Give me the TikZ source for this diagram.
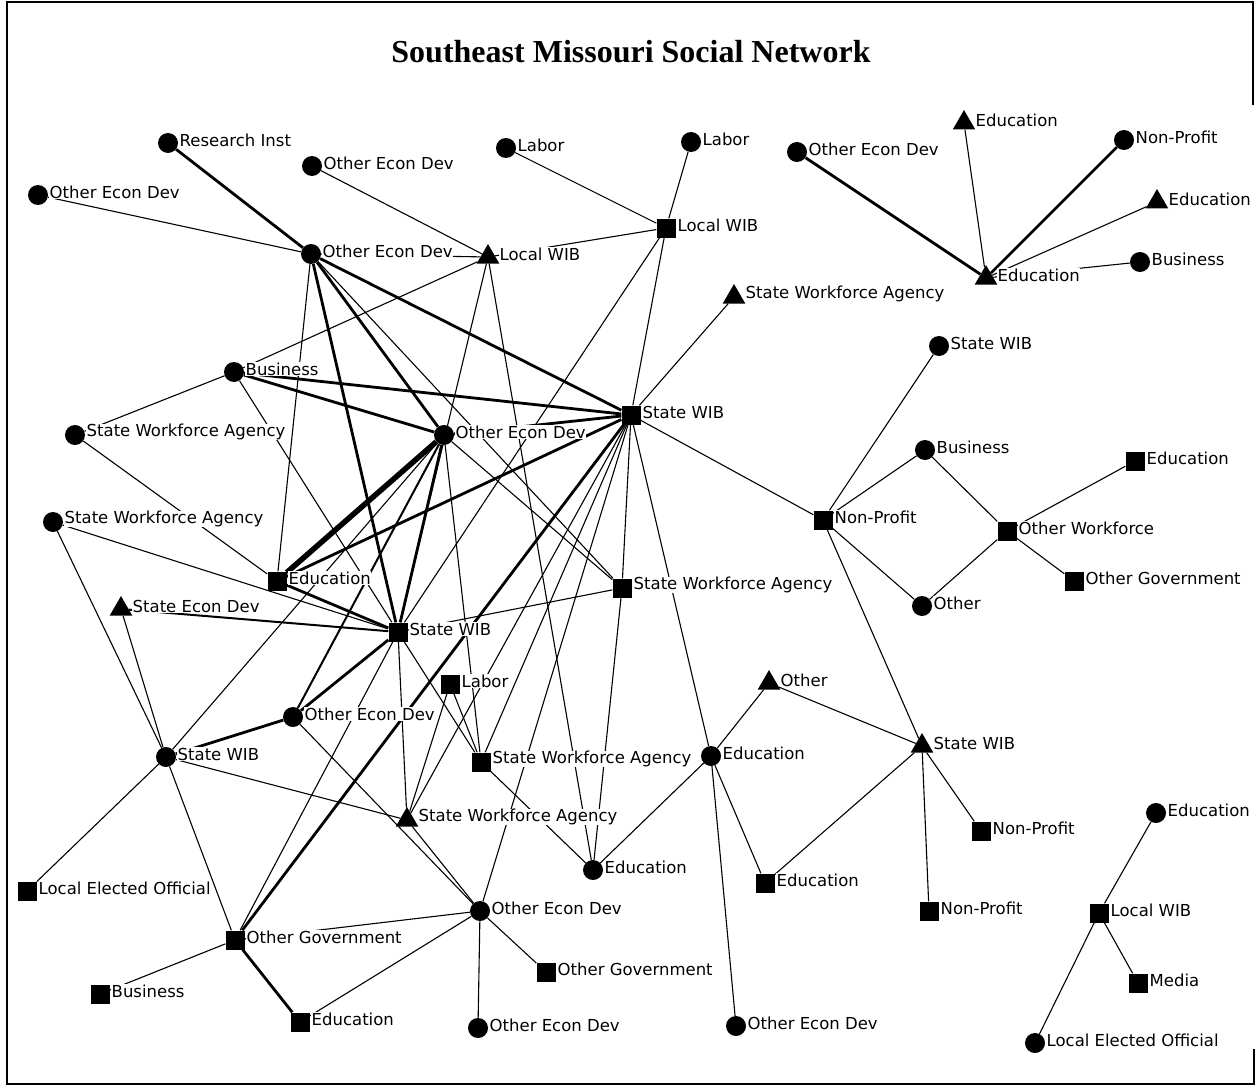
\documentclass[tikz,border=0pt]{standalone}
\usepackage{fontspec}
\setmainfont{DejaVu Sans}
\newfontfamily\titlefont{Liberation Serif}
\usetikzlibrary{shapes.geometric}
\begin{document}
\begin{tikzpicture}[x=1pt,y=-1pt,
  dot/.style={circle,fill=black,inner sep=0pt,minimum size=20pt},
  sq/.style={rectangle,fill=black,inner sep=0pt,minimum size=19pt},
  tri/.style={regular polygon,regular polygon sides=3,fill=black,inner sep=0pt,minimum size=26pt},
  lbl/.style={anchor=west,fill=white,inner xsep=0.5pt,inner ysep=0.5pt,font=\fontsize{16.5}{18}\selectfont},
  e1/.style={line width=1.1pt},
  e2/.style={line width=2pt},
  e3/.style={line width=2.8pt},
  e5/.style={line width=5.5pt},
  frame/.style={line width=2pt,line cap=rect}]
\useasboundingbox (0,0) rectangle (1255,1086);
\fill[white] (0,0) rectangle (1255,1086);
% frame and title
\draw[frame] (7,1084) -- (7,2) -- (1253,2) -- (1253,104);
\draw[frame] (7,1084) -- (1254,1084) -- (1254,1050);
\node[font=\titlefont\bfseries\fontsize{32}{34}\selectfont,anchor=base] (title) at (631,63) {Southeast Missouri Social Network};
% actors
\node[dot] (ri) at (168,143) {};
\node[dot] (oed1) at (312,166) {};
\node[dot] (lab1) at (506,148) {};
\node[dot] (lab2) at (691,142) {};
\node[dot] (oed2) at (38,195) {};
\node[dot] (oedc) at (311,254) {};
\node[tri] (lwibt) at (488,257) {};
\node[sq]  (lwibs) at (666,228) {};
\node[dot] (oed8) at (797,152) {};
\node[tri] (edu6) at (964,123) {};
\node[dot] (np3) at (1124,140) {};
\node[tri] (edu7) at (1157,202) {};
\node[tri] (edu8) at (986,278) {};
\node[dot] (bus3) at (1140,262) {};
\node[tri] (swat) at (734,297) {};
\node[dot] (swib5) at (939,346) {};
\node[dot] (bus1) at (234,372) {};
\node[sq]  (swib1) at (631,415) {};
\node[dot] (swa1) at (75,435) {};
\node[dot] (oed3) at (444,435) {};
\node[dot] (bus4) at (925,450) {};
\node[sq]  (edu9) at (1135,461) {};
\node[sq]  (np4) at (823,520) {};
\node[dot] (swa2) at (53,522) {};
\node[sq]  (ow) at (1007,531) {};
\node[sq]  (edu1) at (277,581) {};
\node[sq]  (swa3) at (622,588) {};
\node[sq]  (ogov3) at (1074,581) {};
\node[dot] (oth2) at (922,606) {};
\node[tri] (sed) at (121,609) {};
\node[sq]  (swib2) at (398,632) {};
\node[tri] (oth1) at (769,683) {};
\node[sq]  (lab3) at (450,684) {};
\node[dot] (oed4) at (293,717) {};
\node[tri] (swib4) at (922,746) {};
\node[dot] (edu3) at (711,756) {};
\node[dot] (swib3) at (166,757) {};
\node[sq]  (swa4) at (481,762) {};
\node[tri] (swa5) at (407,820) {};
\node[dot] (edu10) at (1156,813) {};
\node[sq]  (np1) at (981,831) {};
\node[dot] (edu2) at (593,870) {};
\node[sq]  (edu4) at (765,883) {};
\node[sq]  (leo1) at (27,891) {};
\node[dot] (oed5) at (480,911) {};
\node[sq]  (np2) at (929,911) {};
\node[sq]  (lwib3) at (1099,913) {};
\node[sq]  (ogov1) at (235,940) {};
\node[sq]  (ogov2) at (546,972) {};
\node[sq]  (media) at (1138,983) {};
\node[sq]  (bus2) at (100,994) {};
\node[sq]  (edu5) at (300,1022) {};
\node[dot] (oed6) at (478,1028) {};
\node[dot] (oed7) at (736,1026) {};
\node[dot] (leo2) at (1035,1043) {};
% ties
\foreach \a/\b in {oed2/oedc,oed1/lwibt,oedc/lwibt,lab1/lwibs,lab2/lwibs,lwibt/lwibs,
  lwibs/swib1,lwibs/swib2,swat/swib1,lwibt/bus1,lwibt/swib2,lwibt/edu2,oedc/swa3,oedc/edu1,
  bus1/swa1,bus1/swib2,swa1/edu1,swa2/swib2,swa2/swib3,sed/swib3,oed3/swib3,oed3/swa4,
  oed3/swa3,swib1/swa3,swib1/np4,swib1/edu3,swib1/swa5,swib1/swa4,swib1/oed5,swa3/swib2,
  swa3/edu2,oed4/oed5,swib2/ogov1,swib2/swa5,swib2/swa4,swib3/swa5,swib3/leo1,swib3/ogov1,
  lab3/swa5,lab3/swa4,swa4/edu2,swa5/oed5,oed5/ogov1,oed5/edu5,oed5/oed6,oed5/ogov2,
  ogov1/bus2,edu3/oth1,edu3/edu2,edu3/edu4,edu3/oed7,oth1/swib4,swib4/np4,swib4/edu4,
  swib4/np1,swib4/np2,np4/swib5,np4/bus4,np4/oth2,ow/bus4,ow/oth2,ow/edu9,ow/ogov3,
  edu8/edu6,edu8/edu7,edu8/bus3,lwib3/edu10,lwib3/media,lwib3/leo2}
  \draw[e1] (\a) -- (\b);
\foreach \a/\b in {sed/swib2,oed3/oed4}
  \draw[e2] (\a) -- (\b);
\foreach \a/\b in {ri/oedc,oedc/swib1,oedc/swib2,oedc/oed3,bus1/oed3,bus1/swib1,oed3/swib1,
  edu1/swib1,edu1/swib2,oed3/swib2,swib1/ogov1,oed4/swib2,oed4/swib3,ogov1/edu5,
  edu8/oed8,edu8/np3}
  \draw[e3] (\a) -- (\b);
\draw[e5] (oed3) -- (edu1);
% names
\foreach \n/\t in {ri/Research Inst,oed1/Other Econ Dev,lab1/Labor,lab2/Labor,oed2/Other Econ Dev,
  oedc/Other Econ Dev,lwibt/Local WIB,lwibs/Local WIB,oed8/Other Econ Dev,edu6/Education,
  np3/Non-Profit,edu7/Education,edu8/Education,bus3/Business,swat/State Workforce Agency,
  swib5/State WIB,bus1/Business,swib1/State WIB,swa1/State Workforce Agency,oed3/Other Econ Dev,
  bus4/Business,edu9/Education,np4/Non-Profit,swa2/State Workforce Agency,ow/Other Workforce,
  edu1/Education,swa3/State Workforce Agency,ogov3/Other Government,oth2/Other,
  sed/State Econ Dev,swib2/State WIB,oth1/Other,lab3/Labor,oed4/Other Econ Dev,
  swib4/State WIB,edu3/Education,swib3/State WIB,swa4/State Workforce Agency,
  swa5/State Workforce Agency,edu10/Education,np1/Non-Profit,edu2/Education,edu4/Education,
  leo1/Local Elected Official,oed5/Other Econ Dev,np2/Non-Profit,lwib3/Local WIB,
  ogov1/Other Government,ogov2/Other Government,media/Media,bus2/Business,edu5/Education,
  oed6/Other Econ Dev,oed7/Other Econ Dev,leo2/Local Elected Official}
  \node[lbl] (\n-l) at ([shift={(11,-3)}]\n.center) {\t};
\end{tikzpicture}
\end{document}
